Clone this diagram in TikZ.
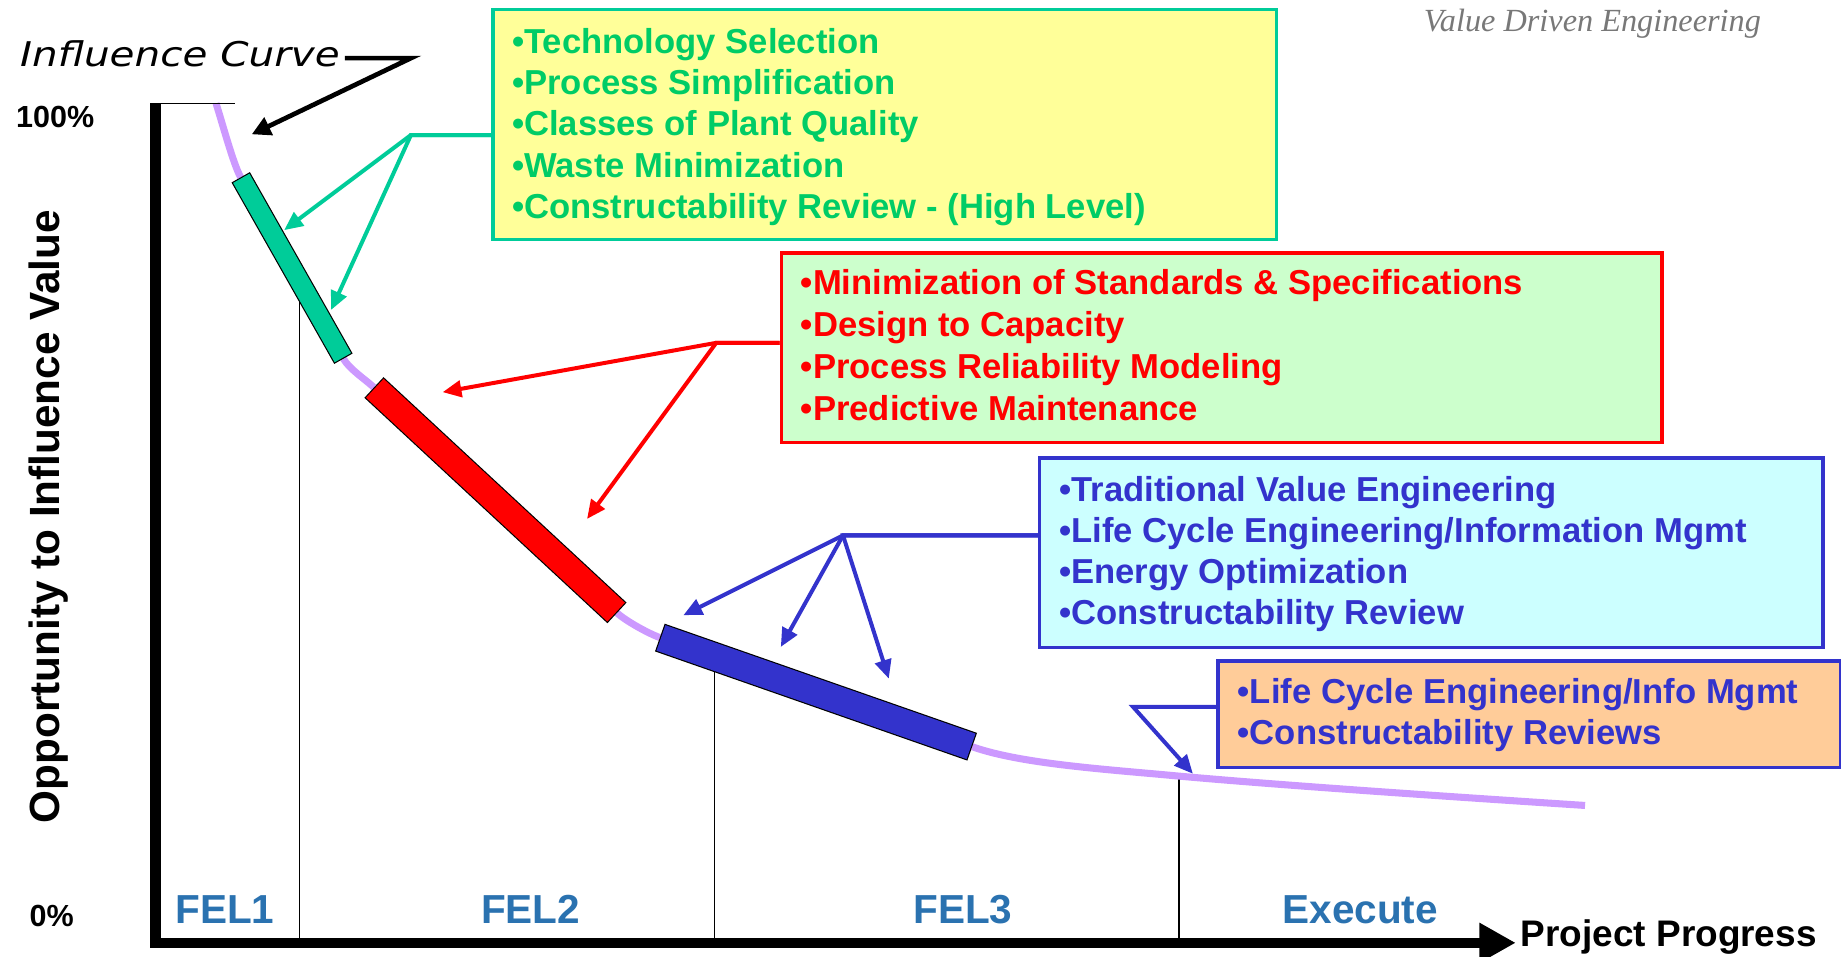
\documentclass[tikz,border=0pt]{standalone}
\usepackage{fontspec}
\setmainfont{Liberation Sans}
\newfontfamily\titlefont{Liberation Serif}
\newfontfamily\curvefont{DejaVu Sans}
\usepackage{graphicx}
\usetikzlibrary{arrows.meta}
\definecolor{tealc}{HTML}{00CC99}
\definecolor{greentxt}{HTML}{00CC66}
\definecolor{yellowfill}{HTML}{FFFF99}
\definecolor{redc}{HTML}{FF0000}
\definecolor{lightgreen}{HTML}{CCFFCC}
\definecolor{bluec}{HTML}{3333CC}
\definecolor{cyanfill}{HTML}{CCFFFF}
\definecolor{orangefill}{HTML}{FFCC99}
\definecolor{curvec}{HTML}{CC99FF}
\definecolor{felc}{RGB}{42,114,176}
\definecolor{titlegray}{RGB}{120,120,120}
\begin{document}
\begin{tikzpicture}[x=1pt,y=-1pt,
  infobox/.style={draw, line width=3pt, inner sep=0pt, anchor=north west},
  boxtext/.style={anchor=base west, align=left, inner sep=0pt, font=\bfseries\fontsize{29.5}{#1}\selectfont},
  conn/.style={line width=3.4pt, -{Triangle[length=16pt,width=14pt]}},
  phase/.style={anchor=base, inner sep=0pt, text=felc, font=\bfseries\fontsize{34.5}{40}\selectfont},
  divider/.style={line width=1.2pt},
  axislabel/.style={inner sep=0pt, font=\bfseries\fontsize{26}{30}\selectfont},
  curveline/.style={curvec, line width=6pt},
]
\useasboundingbox (0,0) rectangle (1568,815);

% phase dividers
\draw[divider] (255,238) -- (255,800);
\draw[divider] (608.5,559) -- (608.5,800);
\draw[divider] (1004,661) -- (1004,800);

% influence curve (visible parts between the bars)
\draw[curveline] (184,88) .. controls (190,107) and (199,140.6) .. (205,151);
\draw[curveline] (292.5,305.5) .. controls (297.4,314.2) and (311.2,323.2) .. (318.5,330);
\draw[curveline] (525.5,522) .. controls (532.8,528.8) and (552.6,539.7) .. (562,543);
\draw[curveline] (828,636) .. controls (870,650.7) and (940,655) .. (1004,661)
                 .. controls (1060,666) and (1150,673) .. (1350,686);

% bars
\draw[line width=18pt] (205,151) -- (292.5,305.5);
\draw[tealc, line width=16pt, shorten <=1pt, shorten >=1pt] (205,151) -- (292.5,305.5);
\draw[line width=24pt] (318.5,330) -- (525.5,522);
\draw[redc, line width=22pt, shorten <=1pt, shorten >=1pt] (318.5,330) -- (525.5,522);
\draw[line width=25pt] (562,543) -- (828,636);
\draw[bluec, line width=23pt, shorten <=1pt, shorten >=1pt] (562,543) -- (828,636);

% axes
\draw[divider] (132,88) -- (200,88);
\draw[line width=9pt, -{Triangle[length=31pt,width=32pt]}] (132.5,88) -- (132.5,803) -- (1291,803);

% axis texts
\node[axislabel, anchor=base west] (p100) at (13.5,109) {100\%};
\node[axislabel, anchor=base west] (p0) at (25,789.5) {0\%};
\node[inner sep=0pt, anchor=base west, font=\bfseries\fontsize{31.5}{36}\selectfont] (pp) at (1295,806.5) {Project Progress};
\node[inner sep=0pt, anchor=base, rotate=90, font=\bfseries\fontsize{36}{42}\selectfont] (ylab) at (51,440) {Opportunity to Influence Value};

% phases
\node[phase] (fel1) at (191.5,786.5) {FEL1};
\node[phase] (fel2) at (452,786.5) {FEL2};
\node[phase] (fel3) at (820,786.5) {FEL3};
\node[phase] (exec) at (1158.5,786.5) {Execute};

% title
\node[inner sep=0pt, anchor=base east, text=titlegray, font=\titlefont\itshape\fontsize{27.5}{32}\selectfont] (title) at (1500,27) {Value Driven Engineering};

% influence curve label
\node[inner sep=0pt, anchor=base west, font=\curvefont\itshape\fontsize{29}{34}\selectfont] (ic) at (17,57) {\scalebox{1.19}[1]{Influence Curve}};
\coordinate (icj) at (350,49.5);
\coordinate (ictip) at (214.4,114.4);
\draw[line width=4pt, -{Triangle[length=16pt,width=16pt]}] ([xshift=4pt]ic.east |- icj) -- (icj) -- (ictip);

% boxes (text nodes anchored at the baseline of their last line)
\node[infobox, draw=tealc, fill=yellowfill, minimum width=667pt, minimum height=196pt] (gbox) at (418.5,6.5) {};
\node[boxtext=35.2, text=greentxt] (gtext) at (436,186.2) {•Technology Selection\\•Process Simplification\\•Classes of Plant Quality\\•Waste Minimization\\•Constructability Review - (High Level)};

\node[infobox, draw=redc, fill=lightgreen, minimum width=750pt, minimum height=161.5pt] (rbox) at (664,214) {};
\node[boxtext=35.7, text=redc] (rtext) at (682,358.1) {•Minimization of Standards \& Specifications\\•Design to Capacity\\•Process Reliability Modeling\\•Predictive Maintenance};

\node[infobox, draw=bluec, fill=cyanfill, minimum width=667pt, minimum height=161.5pt] (bbox) at (884,388.5) {};
\node[boxtext=34.9, text=bluec] (btext) at (902,532.2) {•Traditional Value Engineering\\•Life Cycle Engineering/Information Mgmt\\•Energy Optimization\\•Constructability Review};

\node[infobox, draw=bluec, fill=orangefill, minimum width=530pt, minimum height=90.5pt] (obox) at (1036,561.5) {};
\node[boxtext=35.5, text=bluec] (otext) at (1054,634.5) {•Life Cycle Engineering/Info Mgmt\\•Constructability Reviews};

% connectors
\coordinate (gj) at (350,115);
\coordinate (gt1) at (242,196);
\coordinate (gt2) at (282,264);
\draw[conn, tealc] (gbox.west |- gj) -- (gj) -- (gt1);
\draw[conn, tealc] (gbox.west |- gj) -- (gj) -- (gt2);

\coordinate (rj) at (610,292);
\coordinate (rt1) at (377,334);
\coordinate (rt2) at (500,442);
\draw[conn, redc] (rbox.west |- rj) -- (rj) -- (rt1);
\draw[conn, redc] (rbox.west |- rj) -- (rj) -- (rt2);

\coordinate (bj) at (718,456);
\coordinate (bt1) at (582,524);
\coordinate (bt2) at (665,551);
\coordinate (bt3) at (757,578);
\draw[conn, bluec] (bbox.west |- bj) -- (bj) -- (bt1);
\draw[conn, bluec] (bbox.west |- bj) -- (bj) -- (bt2);
\draw[conn, bluec] (bbox.west |- bj) -- (bj) -- (bt3);

\coordinate (oj) at (965,602);
\coordinate (ot1) at (1016,659);
\draw[conn, bluec] (obox.west |- oj) -- (oj) -- (ot1);
\end{tikzpicture}
\end{document}
